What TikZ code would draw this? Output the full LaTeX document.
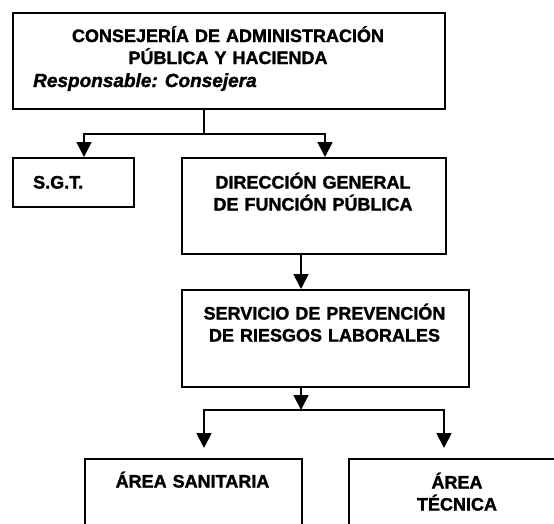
\documentclass[tikz,border=0pt]{standalone}
\usepackage{fontspec}
\setmainfont{Liberation Sans}[BoldFeatures={FakeBold=1.6},BoldItalicFeatures={FakeBold=1.6}]
\usetikzlibrary{arrows.meta,positioning}

\begin{document}
\begin{tikzpicture}[
  x=1pt,y=-1pt,
  font=\bfseries\fontsize{18pt}{22pt}\selectfont,
  unidad/.style={draw,line width=1.8pt,rectangle,anchor=north west,inner sep=0pt},
  rotulo/.style={anchor=base,inner sep=0pt,align=center},
  rotuloIzq/.style={anchor=base west,inner sep=0pt},
  flecha/.style={line width=1.8pt,-{Triangle[width=15pt,length=15pt]}},
  horquilla/.style={line width=1.8pt,{Triangle[width=15pt,length=15pt]}-{Triangle[width=15pt,length=15pt]}}]

  \useasboundingbox (0,0) rectangle (554,523);
  \clip (0,0) rectangle (554,523);

  % cajas del organigrama
  \node[unidad,minimum width=432pt,minimum height=96pt] (cons) at (12,12) {};
  \node[unidad,minimum width=121pt,minimum height=49pt] (sgt) at (12,157) {};
  \node[unidad,minimum width=264pt,minimum height=96pt] (dg) at (181,157) {};
  \node[unidad,minimum width=287pt,minimum height=97pt] (sprl) at (181,289) {};
  \node[unidad,minimum width=217pt,minimum height=100pt] (san) at (84,458) {};
  \node[unidad,minimum width=218pt,minimum height=100pt] (tec) at (348,458) {};

  % textos
  \node[rotulo,text width=400pt] (tcons) at (228,42) {CONSEJERÍA DE ADMINISTRACIÓN\\PÚBLICA Y HACIENDA};
  \node[rotuloIzq,font=\bfseries\itshape\fontsize{19pt}{22pt}\selectfont] (tresp) at (33,87) {Responsable: Consejera};
  \node[rotuloIzq] (tsgt) at (33,188.5) {S.G.T.};
  \node[rotulo,text width=260pt] (tdg) at (313,188.5) {DIRECCIÓN GENERAL\\DE FUNCIÓN PÚBLICA};
  \node[rotulo,text width=280pt] (tsprl) at (324.5,319.5) {SERVICIO DE PREVENCIÓN\\DE RIESGOS LABORALES};
  \node[rotulo,text width=210pt] (tsan) at (192.5,487.5) {ÁREA SANITARIA};
  \node[rotulo,text width=210pt] (ttec) at (457,488.5) {ÁREA\\TÉCNICA};

  % puntos de reparto
  \coordinate (c1) at (204,134);
  \coordinate (c1a) at (84,134);
  \coordinate (c1b) at (325,134);
  \coordinate (c2) at (301,410);
  \coordinate (c3a) at (204,410);
  \coordinate (c3b) at (444,410);

  % consejeria a sgt y direccion general
  \draw[line width=1.8pt] (cons.south -| c1) -- (c1);
  \draw[horquilla] (sgt.north -| c1a) -- (c1a) -- (c1b) -- (dg.north -| c1b);

  % direccion general a servicio
  \draw[flecha] (dg.south -| c2) -- (sprl.north -| c2);
  \draw[flecha] (sprl.south -| c2) -- (c2);

  % servicio a las areas
  \draw[horquilla] ([yshift=10pt]san.north -| c3a) -- (c3a) -- (c3b) -- ([yshift=10pt]tec.north -| c3b);

\end{tikzpicture}
\end{document}
